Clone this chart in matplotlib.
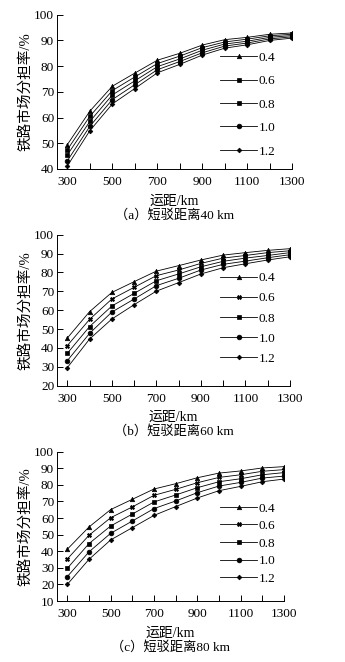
import matplotlib
matplotlib.use("Agg")
import matplotlib.pyplot as plt
from matplotlib.ticker import FuncFormatter, MultipleLocator

plt.rcParams['font.family'] = ['Liberation Serif', 'Noto Sans CJK SC']
plt.rcParams['font.size'] = 9

distance = [300, 400, 500, 600, 700, 800, 900, 1000, 1100, 1200, 1300]
factors = ['0.4', '0.6', '0.8', '1.0', '1.2']

# (a) short-haul distance 40 km
share_40 = [
    [49.5, 62.5, 72.2, 77.3, 82.3, 85.0, 88.2, 90.3, 91.2, 92.4, 92.9],
    [47.5, 60.5, 70.5, 75.8, 81.0, 83.9, 87.2, 89.4, 90.5, 91.8, 92.4],
    [45.5, 58.5, 68.8, 74.3, 79.8, 82.8, 86.2, 88.6, 89.7, 91.2, 91.9],
    [43.2, 56.6, 67.0, 72.8, 78.6, 81.8, 85.2, 87.8, 89.0, 90.6, 91.4],
    [41.2, 54.9, 65.3, 71.3, 77.4, 80.7, 84.3, 87.0, 88.3, 90.0, 90.9],
]
# (b) short-haul distance 60 km
share_60 = [
    [45.2, 59.2, 69.4, 75.1, 80.7, 83.6, 86.6, 89.2, 90.5, 91.7, 92.6],
    [41.2, 55.1, 65.9, 72.1, 78.3, 81.3, 84.8, 87.6, 89.0, 90.5, 91.5],
    [37.1, 51.3, 62.2, 68.9, 75.6, 79.2, 83.0, 85.9, 87.6, 89.0, 90.5],
    [33.2, 47.7, 59.0, 65.9, 73.0, 76.9, 81.3, 84.3, 86.0, 87.8, 89.4],
    [29.5, 44.7, 55.3, 62.9, 70.1, 74.6, 79.2, 82.5, 84.6, 86.6, 88.3],
]
# (c) short-haul distance 80 km
share_80 = [
    [41.2, 54.6, 65.1, 71.3, 77.5, 80.7, 84.3, 87.1, 88.4, 90.2, 91.0],
    [35.3, 49.6, 60.2, 66.7, 73.7, 77.3, 81.3, 84.5, 86.1, 88.2, 89.2],
    [29.7, 44.6, 55.2, 62.4, 69.7, 73.9, 78.3, 81.9, 83.7, 86.1, 87.4],
    [24.7, 39.6, 50.8, 58.2, 65.7, 70.3, 75.3, 79.3, 81.5, 84.1, 85.3],
    [20.0, 35.1, 46.8, 54.2, 61.6, 66.9, 72.1, 76.5, 79.1, 81.9, 83.5],
]

W, H = 345, 662
fig = plt.figure(figsize=(W / 100, H / 100), dpi=100)

panels = [
    # data, ymin, axes box in px (left, top, right, bottom), xmin, caption, legend rows y px, marker for 0.6
    (share_40, 40, (57, 14.7, 292.3, 169), 254, '（a）短驳距离40 km', (61, 148), 's', 0.85),
    (share_60, 20, (57, 234.7, 290, 385.7), 254, '（b）短驳距离60 km', (281, 356), 'X', 0.6),
    (share_80, 10, (57, 451.7, 284, 601), 252.5, '（c）短驳距离80 km', (510, 577), 'X', 0.4),
]

for data, ymin, box, xmin, caption, leg_y, m06, lspace in panels:
    l, t, r, b = box
    ax = fig.add_axes([l / W, 1 - b / H, (r - l) / W, (b - t) / H])
    markers = ['^', m06, 's', 'o', 'D']
    sizes = [3.2, 3.0, 3.4, 3.4, 2.4]
    for vals, lab, mk, ms in zip(data, factors, markers, sizes):
        ax.plot(distance, vals, color='black', lw=0.6, marker=mk, ms=ms,
                markeredgewidth=0.5, label=lab)
    ax.set_xlim(xmin, 1300)
    ax.set_ylim(ymin, 100)
    ax.xaxis.set_major_locator(MultipleLocator(100))
    ax.xaxis.set_major_formatter(FuncFormatter(
        lambda v, p: f'{int(v)}' if int(round(v)) % 200 == 100 else ''))
    ax.yaxis.set_major_locator(MultipleLocator(10))
    for s in ['top', 'right']:
        ax.spines[s].set_visible(False)
    for s in ['left', 'bottom']:
        ax.spines[s].set_linewidth(0.7)
    ax.tick_params(axis='both', direction='in', length=4, width=0.7,
                   labelsize=9.5, pad=2)
    ax.tick_params(axis='x', pad=5)

    leg = ax.legend(loc='center', frameon=False, fontsize=9.5,
                    handlelength=2.8, handletextpad=0.1,
                    labelspacing=lspace, borderpad=0,
                    bbox_to_anchor=((248 - l) / (r - l),
                                    1 - ((leg_y[0] + leg_y[1]) / 2 - t) / (b - t)))

    cx = (l + r) / 2 / W
    fig.text(cx, 1 - (b + 32) / H, '运距/km', ha='center', va='center', fontsize=10)
    fig.text(cx, 1 - (b + 46) / H, caption, ha='center', va='center', fontsize=9.5)
    fig.text(25 / W, 1 - (t + b) / 2 / H, '铁路市场分担率/%', rotation=90,
             ha='center', va='center', fontsize=10.5)

fig.savefig('out.png', dpi=100)
